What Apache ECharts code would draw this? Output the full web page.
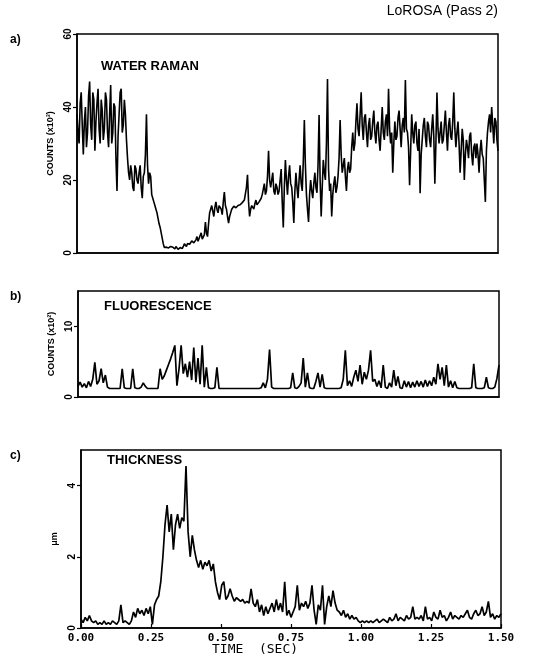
<!DOCTYPE html>
<html>
<head>
<meta charset="utf-8">
<script src="https://cdn.jsdelivr.net/npm/echarts@6/dist/echarts.min.js"></script>
<style>
  html, body { margin: 0; padding: 0; background: #fff; }
  #chart { width: 536px; height: 658px; }
</style>
</head>
<body>
<div id="chart"></div>
<script>
// sample spacing of the traces (sec)
const ramanStep = 0.00375
const traceStep = 0.0075

const timeTicks = [0, 0.25, 0.5, 0.75, 1.0, 1.25, 1.5]

const waterRaman = [
  38, 33, 30, 41, 44, 35, 27, 36, 40, 29,
  33, 43, 47, 35, 31, 44, 42, 28, 36, 41,
  45, 34, 30, 42, 39, 31, 34, 44, 42, 33,
  29, 38, 46, 30, 33, 41, 40, 26, 17, 32,
  38, 44, 45, 33, 35, 42, 38, 31, 26, 22,
  20, 24, 22, 18, 17, 24, 23, 20, 19, 22,
  24, 18, 15, 21, 22, 27, 38, 24, 19, 22,
  21, 16, 15, 14, 13, 12, 11, 9.5, 8, 7,
  5.5, 4, 2.5, 1.5, 1.2, 1.6, 2, 1.4, 1, 1.8,
  2.2, 1.6, 1.3, 1.1, 1.8, 1.3, 1, 1.2, 1.5, 2,
  1.2, 1.8, 2.5, 2.2, 1.8, 2.6, 3, 2.4, 2.2, 3.3,
  3.8, 2.8, 2.5, 3.6, 4.5, 3.2, 3, 4.8, 5.5, 3.8,
  3.5, 5, 8.5, 5.5, 4.5, 8, 11, 12, 13, 11.5,
  10, 12.5, 14, 12, 11, 13, 13.5, 12, 10.5, 14,
  16.7, 13, 12, 10, 8.2, 10, 11, 12, 12.5, 12.8,
  13, 12.4, 12.6, 13, 13.5, 13.2, 13, 13.8, 14, 14.5,
  15, 18, 21.4, 14, 10, 12, 13, 12.6, 12, 13.5,
  14.5, 13.2, 13, 14, 14.5, 15, 16, 17.5, 19, 16,
  17, 21, 28, 20, 18, 20, 22, 17, 16, 19,
  18, 16, 17, 20, 23, 14, 7, 18, 25.5, 20,
  16, 21, 24, 19, 18, 14, 8.2, 17, 22, 18,
  15, 20, 24, 19, 17, 25, 36.4, 24, 16, 12,
  8.5, 16, 20, 17, 15, 19, 22, 18, 16.5, 24,
  37.8, 20, 10, 18, 25.5, 22, 20, 30, 47.7, 23,
  17, 19, 10, 16, 19, 21, 16.5, 18, 21, 26,
  36.4, 27, 22, 24, 26, 21, 17, 23, 25, 22,
  23, 29, 33, 28, 30, 36, 41, 34, 32, 38,
  44, 35, 31, 37, 38, 33, 29, 35, 37, 31,
  32, 36, 39, 33, 30, 35, 36, 31, 28, 34,
  40, 33, 31, 36, 38, 32, 45, 34, 30, 33,
  22, 30, 36, 31, 32, 37, 39, 34, 29, 35,
  37, 33, 47.4, 34, 33, 29, 18.6, 28, 38, 33,
  30, 35, 36, 30, 28, 34, 16.4, 27, 31, 35,
  37, 32, 29, 36, 35, 31, 29, 34, 38, 32,
  19, 30, 44, 34, 30, 33, 36, 30, 31, 35,
  39, 33, 28, 35, 37, 32, 31, 36, 44, 34,
  29, 33, 36, 30, 22, 28, 34, 31, 20, 27,
  31, 29, 26, 32, 33, 27, 24, 29, 30, 26,
  30, 27, 22, 28, 31, 27, 26, 20, 14, 28,
  33, 36, 38, 33, 40, 35, 30, 37, 36, 31,
  28
]

const fluorescence = [
  1.5, 2.1, 1.4, 1.9, 1.3, 2.2, 1.5, 2.5, 4.9, 1.8,
  2.3, 4, 2, 3.1, 1.4, 1.2, 1.2, 1.2, 1.2, 1.2,
  1.2, 4, 1.3, 1.2, 1.2, 1.2, 4, 1.3, 1.2, 1.2,
  1.4, 2, 1.5, 1.2, 1.2, 1.2, 1.2, 1.2, 1.2, 4,
  2.5, 3, 3.8, 4.6, 5.4, 6.3, 7.3, 1.6, 4, 7.3,
  3.3, 4.7, 2.8, 5, 2.4, 7, 2.1, 5.5, 1.8, 7.3,
  1.4, 4.2, 1.3, 1.2, 1.2, 1.3, 4.2, 1.2, 1.2, 1.2,
  1.2, 1.2, 1.2, 1.2, 1.2, 1.2, 1.2, 1.2, 1.2, 1.2,
  1.2, 1.2, 1.2, 1.2, 1.2, 1.2, 1.2, 1.3, 2, 1.3,
  2.5, 6.7, 1.4, 1.2, 1.2, 1.2, 1.2, 1.2, 1.2, 1.2,
  1.2, 1.3, 3.4, 1.3, 1.2, 1.5, 2, 5.5, 1.4, 3.4,
  1.3, 1.2, 1.2, 2.2, 3.4, 1.4, 3.2, 1.3, 1.2, 1.2,
  1.2, 1.2, 1.2, 1.2, 1.2, 1.3, 2.5, 6.6, 1.6, 2.3,
  1.5, 2.8, 3.8, 2.2, 4.5, 1.8, 3.5, 2.5, 3.8, 6.6,
  2.2, 2.5, 1.5, 2.3, 1.3, 4.5, 1.4, 1.2, 2, 1.4,
  3.8, 1.6, 2.9, 1.3, 1.2, 2.3, 1.4, 2.2, 1.3, 2.1,
  1.4, 2.3, 1.5, 2.2, 1.4, 2.4, 1.5, 2.3, 1.6, 2.8,
  1.8, 4.7, 2.5, 4.2, 1.6, 4.5, 1.4, 2.3, 1.3, 2.2,
  1.3, 1.2, 1.2, 1.2, 1.2, 1.2, 1.2, 1.3, 4.7, 1.3,
  1.2, 1.2, 1.2, 1.3, 2.8, 1.3, 1.2, 1.2, 1.4, 2.6,
  4.5
]

const thickness = [
  0.25, 0.15, 0.3, 0.2, 0.35, 0.2, 0.15, 0.2, 0.1, 0.15,
  0.1, 0.2, 0.1, 0.15, 0.1, 0.2, 0.15, 0.1, 0.2, 0.65,
  0.15, 0.2, 0.15, 0.1, 0.2, 0.45, 0.3, 0.55, 0.4, 0.5,
  0.35, 0.55, 0.4, 0.6, 0.1, 0.65, 0.8, 0.9, 1.3, 2.0,
  2.9, 3.45, 2.7, 3.2, 2.2, 2.9, 3.2, 2.8, 3.1, 3.0,
  4.55, 2.7, 2.0, 2.6, 2.2, 1.9, 1.7, 1.9, 1.65, 1.85,
  1.75, 1.9, 1.6, 1.8, 1.3, 1.0, 0.8, 1.2, 1.3, 0.8,
  0.9, 1.1, 0.9, 0.75, 0.85, 0.8, 0.75, 0.8, 0.7, 0.75,
  0.7, 1.1, 0.7, 0.6, 0.8, 0.45, 0.65, 0.35, 0.6, 0.4,
  0.55, 0.7, 0.45, 0.8, 0.5, 0.7, 0.45, 1.3, 0.35, 0.5,
  0.3, 0.45, 0.6, 1.2, 0.5, 0.7, 0.6, 0.75, 0.55, 0.7,
  1.2, 0.5, 0.1, 0.65, 0.5, 1.2, 0.1, 0.6, 0.9, 0.6,
  1.05, 0.7, 0.5, 0.45, 0.35, 0.5, 0.3, 0.4, 0.25, 0.35,
  0.25, 0.3, 0.2, 0.15, 0.2, 0.15, 0.2, 0.15, 0.2, 0.15,
  0.2, 0.25, 0.15, 0.2, 0.25, 0.2, 0.15, 0.3, 0.2, 0.25,
  0.4, 0.2, 0.3, 0.25, 0.2, 0.35, 0.25, 0.3, 0.6, 0.25,
  0.3, 0.25, 0.35, 0.2, 0.6, 0.25, 0.3, 0.2, 0.45, 0.3,
  0.25, 0.5, 0.3, 0.35, 0.2, 0.3, 0.45, 0.25, 0.35, 0.3,
  0.25, 0.35, 0.3, 0.4, 0.5, 0.3, 0.25, 0.4, 0.5, 0.35,
  0.4, 0.6, 0.35, 0.45, 0.75, 0.3, 0.4, 0.25, 0.35, 0.3,
  0.4
]

const panelTitles = ['WATER RAMAN', 'FLUORESCENCE', 'THICKNESS']
const panelLetters = ['a)', 'b)', 'c)']

const toPairs = (values, step) => values.map((v, i) => [i * step, v])

const ink = '#000'
const monoFont = '"DejaVu Sans Mono", monospace'
const sansFont = '"Liberation Sans", Arial, sans-serif'

function timeAxis(gridIndex, showLabels) {
  return {
    type: 'value',
    gridIndex,
    min: timeTicks[0],
    max: timeTicks[timeTicks.length - 1],
    interval: 0.25,
    axisLine: { show: true, lineStyle: { color: ink, width: 1.5 } },
    axisTick: { show: showLabels, inside: true, length: 4, lineStyle: { color: ink, width: 1.2 } },
    axisLabel: {
      show: showLabels,
      color: ink,
      fontFamily: monoFont,
      fontSize: 11,
      fontWeight: 'bold',
      margin: 5,
      formatter: (v) => v.toFixed(2),
    },
    splitLine: { show: false },
  }
}

function countAxis(gridIndex, max, interval, name) {
  return {
    type: 'value',
    gridIndex,
    min: 0,
    max,
    interval,
    name,
    nameLocation: 'middle',
    nameGap: 20,
    nameTextStyle: { color: ink, fontFamily: sansFont, fontSize: 9, fontWeight: 'bold' },
    axisLine: { show: true, lineStyle: { color: ink, width: 1.5 } },
    axisTick: { show: true, length: 4, lineStyle: { color: ink, width: 1.2 } },
    axisLabel: {
      color: ink,
      fontFamily: sansFont,
      fontSize: 10,
      fontWeight: 'bold',
      rotate: 90,
      margin: 4,
      showMaxLabel: max % interval === 0,
    },
    splitLine: { show: false },
  }
}

function trace(index, values, step, width) {
  return {
    type: 'line',
    xAxisIndex: index,
    yAxisIndex: index,
    data: toPairs(values, step),
    showSymbol: false,
    lineStyle: { color: ink, width },
    silent: true,
  }
}

const frame = { show: true, borderColor: ink, borderWidth: 1.5, backgroundColor: 'transparent' }

const grids = [
  { left: 77, top: 34, width: 421, height: 219, ...frame },
  { left: 78, top: 291, width: 421, height: 106, ...frame },
  { left: 81, top: 450, width: 420, height: 178, ...frame },
]

const labelTops = [34, 291, 450]
const titleTops = [60, 300, 454]
const titleLefts = [101, 104, 107]

const graphics = [
  {
    type: 'text',
    right: 38,
    top: 4,
    style: { text: 'LoROSA (Pass 2)', fill: ink, font: '14px ' + sansFont },
  },
  {
    type: 'text',
    left: 212,
    top: 643,
    style: { text: 'TIME  (SEC)', fill: ink, font: '13px ' + monoFont },
  },
]
panelLetters.forEach((t, i) => {
  graphics.push({
    type: 'text',
    left: 10,
    top: labelTops[i],
    style: { text: t, fill: ink, font: 'bold 12px ' + sansFont },
  })
  graphics.push({
    type: 'text',
    left: titleLefts[i],
    top: titleTops[i],
    style: { text: panelTitles[i], fill: ink, font: 'bold 13px ' + sansFont },
  })
})

const chart = echarts.init(document.getElementById('chart'))
chart.setOption({
  animation: false,
  backgroundColor: '#fff',
  grid: grids,
  xAxis: [timeAxis(0, false), timeAxis(1, false), timeAxis(2, true)],
  yAxis: [
    countAxis(0, 60, 20, 'COUNTS (x10³)'),
    countAxis(1, 15, 10, 'COUNTS (x10²)'),
    countAxis(2, 5, 2, 'μm'),
  ],
  series: [
    trace(0, waterRaman, ramanStep, 1.6),
    trace(1, fluorescence, traceStep, 1.7),
    trace(2, thickness, traceStep, 1.7),
  ],
  graphic: graphics,
})
</script>
</body>
</html>
